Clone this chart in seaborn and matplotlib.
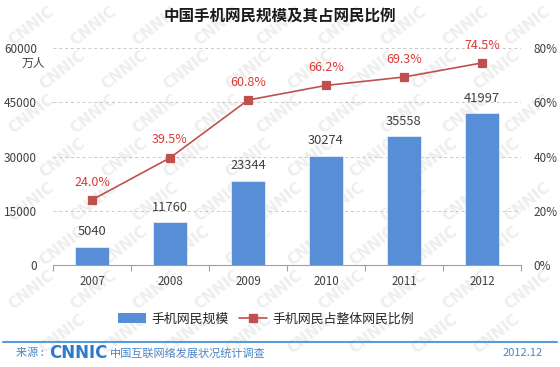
"""
China mobile internet users and their share of all internet users, 2007-2012.
"""
import seaborn as sns
import pandas as pd
import matplotlib.pyplot as plt
from matplotlib.patches import Patch
from matplotlib.lines import Line2D

years = ["2007", "2008", "2009", "2010", "2011", "2012"]
users = [5040, 11760, 23344, 30274, 35558, 41997]
share = [24.0, 39.5, 60.8, 66.2, 69.3, 74.5]
left_ticks = [0, 15000, 30000, 45000, 60000]
right_ticks = [0, 20, 40, 60, 80]

bar_color = "#588ED6"
line_color = "#C0504D"
label_red = "#D93A36"
text_gray = "#404040"
foot_blue = "#4A86C8"

sns.set_theme(style="white")
plt.rcParams["font.family"] = ["Noto Sans CJK SC", "DejaVu Sans"]

df = pd.DataFrame({"year": years, "users": users, "share": share})

fig = plt.figure(figsize=(5.6, 3.67), dpi=100)

# Faint CNNIC watermark behind everything, kept inside the picture.
for row in range(8):
    ncols = 9 if row % 2 == 0 else 8
    for col in range(ncols):
        x = (32 + col * 62 + (row % 2) * 31) / 560
        y = 1 - (26 + row * 44) / 367
        fig.text(x, y, "CNNIC", rotation=38, fontsize=11, fontweight="bold",
                 color="#EEEEEE", ha="center", va="center", zorder=-5,
                 family="DejaVu Sans")

ax = fig.add_axes([53 / 560, 1 - 265 / 367, 468 / 560, 217 / 367])
ax.patch.set_alpha(0)

# Bars for user numbers.
sns.barplot(data=df, x="year", y="users", color=bar_color, width=0.44,
            saturation=1, ax=ax, zorder=3, edgecolor="#E4ECF7", linewidth=0.6)
for rec, v in zip(ax.patches, users):
    ax.text(rec.get_x() + rec.get_width() / 2, v + 2300, str(v),
            ha="center", va="bottom", fontsize=9.3, color=text_gray)

ax.set_ylim(0, 60000)
ax.set_yticks(left_ticks)
ax.set_yticklabels([str(t) for t in left_ticks], fontsize=8.5,
                   color=text_gray)
ax.set_xlabel("")
ax.set_ylabel("")
ax.grid(axis="y", linestyle=(0, (3, 3)), color="#C8C8C8", linewidth=0.7)
ax.tick_params(axis="x", which="major", length=0, labelsize=8.3,
               labelcolor=text_gray, pad=7)
ax.tick_params(axis="y", length=0, pad=11.5)
ax.set_xticks([i - 0.5 for i in range(7)], minor=True)
ax.tick_params(axis="x", which="minor", length=4, color="#A0A0A0",
               width=0.8, bottom=True, direction="out")
for s in ["top", "right", "left"]:
    ax.spines[s].set_visible(False)
ax.spines["bottom"].set_color("#A0A0A0")
ax.spines["bottom"].set_linewidth(0.8)
ax.text(-0.041, 0.931, "万人", transform=ax.transAxes, ha="center",
        va="center", fontsize=8.5, color=text_gray)

# Line for share of all internet users.
ax2 = ax.twinx()
sns.pointplot(data=df, x="year", y="share", color=line_color, markers="s",
              markersize=6, linewidth=1.2, ax=ax2)
for i, v in enumerate(share):
    ax2.text(i, v + 4.2, f"{v:.1f}%", ha="center", va="bottom",
             fontsize=9, color=label_red)
ax2.set_ylim(0, 80)
ax2.set_yticks(right_ticks)
ax2.set_yticklabels([f"{t}%" for t in right_ticks], fontsize=8.5,
                    color=text_gray)
ax2.set_ylabel("")
ax2.tick_params(axis="y", length=0, pad=9)
for s in ["top", "right", "left", "bottom"]:
    ax2.spines[s].set_visible(False)
ax.set_xlim(-0.5, 5.5)
ax2.set_xlim(-0.5, 5.5)

fig.text(0.5, 1 - 16 / 367, "中国手机网民规模及其占网民比例", ha="center",
         va="center", fontsize=11.2, fontweight="bold", color="#1A1A1A")

handles = [Patch(facecolor=bar_color, edgecolor="none"),
           Line2D([], [], color=line_color, marker="s", markersize=6,
                  linewidth=1.2)]
fig.legend(handles, ["手机网民规模", "手机网民占整体网民比例"], loc="center",
           bbox_to_anchor=(266 / 560, 1 - 319 / 367), ncol=2, frameon=False,
           fontsize=9.3, handlelength=2.2, columnspacing=0.8,
           handletextpad=0.4)

# Footer with source.
fig.add_artist(Line2D([3 / 560, 557 / 560], [1 - 342 / 367, 1 - 342 / 367],
                      color="#5B9BD5", linewidth=1.5))
fig.text(16 / 560, 1 - 353 / 367, "来源 :", ha="left", va="center",
         fontsize=8, color=foot_blue)
fig.text(49 / 560, 1 - 353 / 367, "CNNIC", ha="left", va="center",
         fontsize=12, fontweight="bold", color="#2F7BC8",
         family="DejaVu Sans")
fig.text(110 / 560, 1 - 353 / 367, "中国互联网络发展状况统计调查", ha="left",
         va="center", fontsize=8, color=foot_blue)
fig.text(543 / 560, 1 - 353 / 367, "2012.12", ha="right", va="center",
         fontsize=8, color=foot_blue)

plt.savefig("out.png", dpi=100)
